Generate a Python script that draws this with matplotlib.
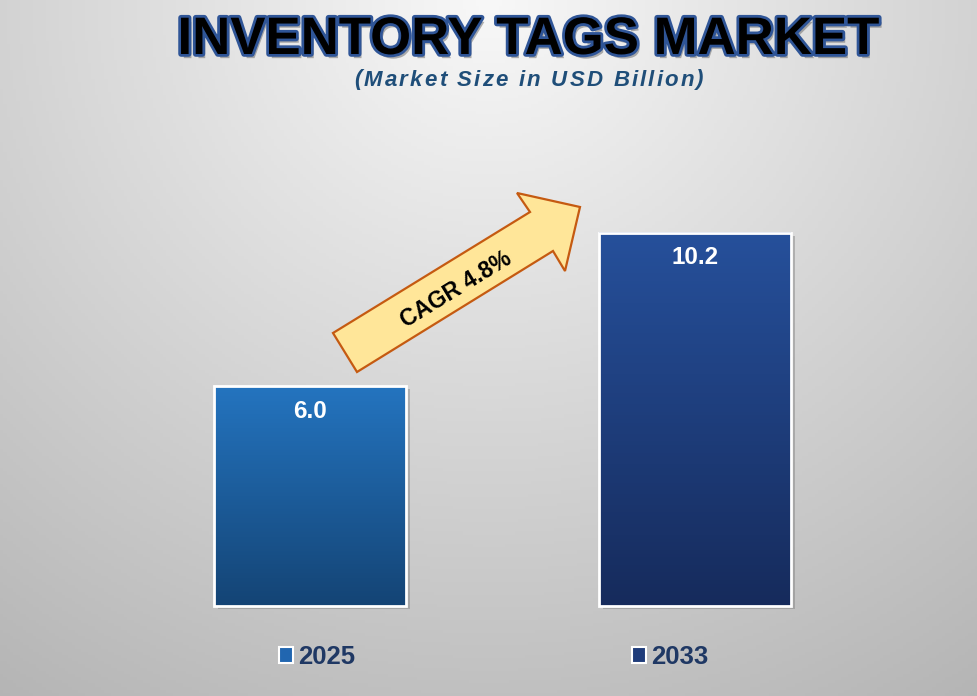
import numpy as np
import matplotlib
matplotlib.use("Agg")
import matplotlib.pyplot as plt
import matplotlib.patheffects as pe
from matplotlib.patches import Polygon, Rectangle, Patch
from matplotlib.font_manager import FontProperties

# chart data
years = ["2025", "2033"]
values = [6.0, 10.2]
cagr_label = "CAGR 4.8%"
title = "INVENTORY TAGS MARKET"
subtitle = "(Market Size in USD Billion)"

# gradient colours for each bar (top, bottom) and legend swatches
bar_tops = ["#2474bf", "#26509b"]
bar_bottoms = ["#144475", "#162b5c"]
legend_colors = ["#2166b0", "#1f3c7a"]

plt.rcParams["font.family"] = ["Liberation Sans", "DejaVu Sans"]

W, H = 978, 696
fig = plt.figure(figsize=(W / 100, H / 100), dpi=100)
ax = fig.add_axes([0, 0, 1, 1])
ax.set_axis_off()

# pixel layout helpers: bar centres at 310 / 695 px, baseline at 606 px
x_scale = 385.0
y_scale = 36.6
x0_px, base_px = 310, 606


def px(x, y):
    return (x - x0_px) / x_scale, (base_px - y) / y_scale


xmin, ymax = px(0, 0)
xmax, ymin = px(W, H)

# background: soft radial gradient, light at top centre
gx = np.linspace(0, 1, 300)
gy = np.linspace(0, 1, 220)
GX, GY = np.meshgrid(gx, gy)
r = np.sqrt(((GX - 0.5) / 0.75) ** 2 + GY ** 2)
val = np.clip(248 - 56 * r, 170, 250) / 255.0
bg = np.dstack([val, val, val])
ax.imshow(bg, extent=[xmin, xmax, ymin, ymax], aspect="auto", zorder=0, origin="upper")

# bars with vertical gradient
xs = np.arange(len(years))
bw = 192 / x_scale
bars = ax.bar(xs, values, width=bw, color="none", edgecolor="white", linewidth=2, zorder=4)
for i, b in enumerate(bars):
    # shadow
    sh = Rectangle((xs[i] - bw / 2 + 4 / x_scale, -3 / y_scale), bw, values[i],
                   facecolor="#7f7f7f", alpha=0.45, edgecolor="none", zorder=1)
    ax.add_patch(sh)
    top = np.array(matplotlib.colors.to_rgb(bar_tops[i]))
    bot = np.array(matplotlib.colors.to_rgb(bar_bottoms[i]))
    t = np.linspace(0, 1, 100)[:, None]
    grad = (top * (1 - t) + bot * t)[:, None, :]
    ax.imshow(grad, extent=[xs[i] - bw / 2, xs[i] + bw / 2, 0, values[i]],
              aspect="auto", zorder=3, origin="upper")
    ax.text(xs[i], values[i] - 25 / y_scale, f"{values[i]:.1f}", ha="center", va="center",
            color="white", fontsize=17.5, fontweight="bold", zorder=5)

# CAGR arrow
arrow_px = [(333, 333), (530, 212), (517, 193), (580, 207), (565, 271), (553, 251), (357, 372)]
ax.add_patch(Polygon([px(*p) for p in arrow_px], closed=True, facecolor="#ffe699",
                     edgecolor="#c55a11", linewidth=1.6, zorder=5))
ax.text(*px(456, 290), cagr_label, rotation=31.5, ha="center", va="center",
        fontsize=16.5, fontweight="bold", color="black", zorder=6, rotation_mode="anchor")

ax.set_xlim(xmin, xmax)
ax.set_ylim(ymin, ymax)

# title with blue outline and shadow
fig.text(528 / W, 1 - 40 / H, title, ha="center", va="center", fontsize=38,
         fontweight="bold", color="black",
         path_effects=[pe.SimplePatchShadow(offset=(2, -3), shadow_rgbFace="#555555", alpha=0.45),
                       pe.Stroke(linewidth=4, foreground="#2f5597"), pe.Normal()])

# subtitle, letter-spaced italic
fig.canvas.draw()
renderer = fig.canvas.get_renderer()
fp = FontProperties(family="Liberation Sans", weight="bold", style="italic", size=16)
spacing = 2.2
total_w, _, _ = renderer.get_text_width_height_descent(subtitle, fp, ismath=False)
total_w += spacing * (len(subtitle) - 1)
start = 529 - total_w / 2
for i, ch in enumerate(subtitle):
    w, _, _ = renderer.get_text_width_height_descent(subtitle[:i], fp, ismath=False) if i else (0, 0, 0)
    fig.text((start + w + spacing * i) / W, 1 - 80 / H, ch, ha="left", va="center",
             fontproperties=fp, color="#1f4e79")

# legend
handles = [Patch(facecolor=c, edgecolor="white", linewidth=1.5) for c in legend_colors]
leg = fig.legend(handles, years, loc="center left", bbox_to_anchor=(279 / W, 1 - 657 / H),
                 ncol=2, frameon=False, handlelength=0.55, handleheight=0.55,
                 handletextpad=0.2, columnspacing=10.75,
                 prop=FontProperties(family="Liberation Sans", weight="bold", size=18.5),
                 borderpad=0, borderaxespad=0)
for txt in leg.get_texts():
    txt.set_color("#1f3864")

fig.savefig("out.png", dpi=100)
